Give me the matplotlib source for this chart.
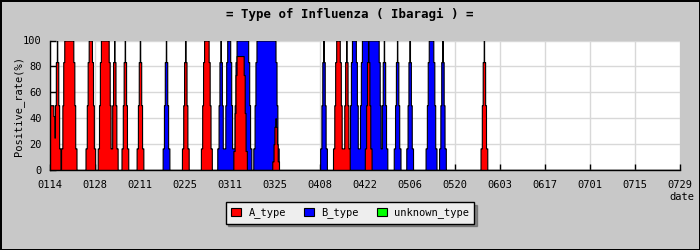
import numpy as np
import matplotlib
matplotlib.use("Agg")
import matplotlib.pyplot as plt
from matplotlib.patches import Patch

# ---------------- data ----------------
date_labels = ['0114', '0128', '0211', '0225', '0311', '0325', '0408', '0422',
               '0506', '0520', '0603', '0617', '0701', '0715', '0729']
date_step = 14  # days between labelled dates

# positive-rate episodes (day offset from 01/14), A type
a_start = [0.0, 2.2, 4.5, 12.1, 15.9, 20.0, 23.3, 28.0, 42.1, 48.0, 58.1, 70.2, 89.1, 92.2, 99.0, 135.0]
a_end   = [1.0, 2.2, 7.2, 13.0, 18.2, 20.0, 23.3, 28.0, 42.1, 49.3, 60.2, 70.2, 90.1, 92.2, 99.0, 135.0]
a_peak  = [50, 100, 100, 100, 100, 100, 100, 100, 100, 100, 88, 40, 100, 100, 100, 100]

# B type
b_start = [36.1, 53.1, 55.2, 58.1, 64.3, 85.1, 94.0, 97.1, 103.9, 108.0, 111.9, 117.9, 122.1]
b_end   = [36.1, 53.1, 56.0, 61.6, 70.1, 85.1, 95.1, 102.2, 103.9, 108.0, 111.9, 119.2, 122.1]
b_peak  = [100, 100, 100, 100, 100, 100, 100, 100, 100, 100, 100, 100, 100]

# unknown type (none observed)
u_start, u_end, u_peak = [], [], []

series_names = ['A_type', 'B_type', 'unknown_type']
series_colors = ['#ff0000', '#0000ff', '#00ff00']

# ---------------- drawing ----------------
BG = '#c8c8c8'
MONO = ['DejaVu Sans Mono']
plt.rcParams['font.family'] = MONO

fig = plt.figure(figsize=(7, 2.5), dpi=100, facecolor=BG)
fig.patch.set_edgecolor('black')
fig.patch.set_linewidth(1.0)
ax = fig.add_axes([50/700, 1-170/250, 630/700, 129.5/250])
ax.set_facecolor('white')

ndays = date_step * (len(date_labels) - 1)
x = np.arange(-2, ndays + 2, 0.01)
levels = [(1/6, 1.05), (1/2, 0.65), (5/6, 0.38), (1.0, 0.06)]


def envelope(starts, ends, peaks):
    env = np.zeros_like(x)
    for s, e, p in zip(starts, ends, peaks):
        for frac, pad in levels:
            m = (x >= s - pad) & (x <= e + pad)
            env[m] = np.maximum(env[m], frac * p)
    return env


for (st, en, pk), col, z in [((u_start, u_end, u_peak), series_colors[2], 2),
                             ((b_start, b_end, b_peak), series_colors[1], 3),
                             ((a_start, a_end, a_peak), series_colors[0], 4)]:
    env = envelope(st, en, pk)
    if env.max() > 0:
        ax.fill_between(x, 0, env, facecolor=col, edgecolor='black',
                        linewidth=0.8, zorder=z)

ax.set_xlim(0, ndays)
ax.set_ylim(0, 100)
ax.set_xticks(np.arange(0, ndays + 1, date_step))
ax.set_xticklabels(date_labels)
ax.set_yticks(np.arange(0, 101, 20))
ax.grid(True, color='#d8d8d8', linewidth=1, zorder=0)
ax.set_axisbelow(True)
for s in ['top', 'right']:
    ax.spines[s].set_visible(False)
for s in ['left', 'bottom']:
    ax.spines[s].set_color('black')
    ax.spines[s].set_linewidth(1)
    ax.spines[s].set_zorder(6)
ax.tick_params(axis='both', direction='in', length=4, width=1, color='black',
               labelsize=7.5, labelcolor='black')
ax.tick_params(axis='x', pad=7)
ax.tick_params(axis='y', pad=6)

fig.text(0.5, 1-14/250, '= Type of Influenza ( Ibaragi ) =', ha='center', va='center',
         fontsize=9, fontweight='bold', family=MONO)
fig.text(19/700, 1-106/250, 'Positive_rate(%)', rotation=90, ha='center', va='center',
         fontsize=7.5, family=MONO)
fig.text(669/700, 1-197/250, 'date', ha='left', va='center', fontsize=7.5, family=MONO)

handles = [Patch(facecolor=c, edgecolor='black', linewidth=0.8) for c in series_colors]
leg = fig.legend(handles, series_names, loc='center', bbox_to_anchor=(350/700, 1-213/250),
                 ncol=3, frameon=True, fancybox=False, shadow=True,
                 handlelength=1.0, handleheight=0.9, handletextpad=0.7,
                 columnspacing=1.7, borderpad=0.5, prop={'family': MONO, 'size': 7.5})
leg.get_frame().set_facecolor('#eeeeee')
leg.get_frame().set_edgecolor('black')
leg.get_frame().set_linewidth(1)
leg.get_frame().set_alpha(1)

fig.savefig('out.png', dpi=100, facecolor=fig.get_facecolor(), edgecolor=fig.get_edgecolor())
